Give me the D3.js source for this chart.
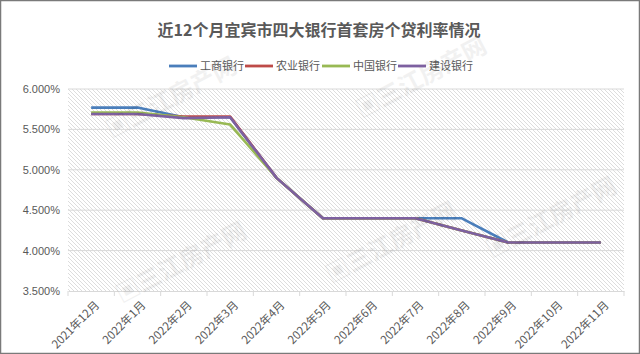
<!DOCTYPE html>
<html>
<head>
<meta charset="utf-8">
<script src="https://cdn.jsdelivr.net/npm/d3@7"></script>
<style>
  body { margin: 0; background: #fff; }
  svg { display: block; font-family: "Microsoft YaHei", "Noto Sans CJK SC", sans-serif; }
</style>
</head>
<body>
<div id="chart"></div>
<script>
// dados
const months = ['2021年12月', '2022年1月', '2022年2月', '2022年3月', '2022年4月', '2022年5月',
  '2022年6月', '2022年7月', '2022年8月', '2022年9月', '2022年10月', '2022年11月'];
const icbc = [5.77, 5.77, 5.65, 5.65, 4.90, 4.40, 4.40, 4.40, 4.40, 4.10, 4.10, 4.10];
const abc  = [5.69, 5.69, 5.66, 5.66, 4.90, 4.40, 4.40, 4.40, 4.25, 4.10, 4.10, 4.10];
const boc  = [5.71, 5.71, 5.65, 5.56, 4.90, 4.40, 4.40, 4.40, 4.25, 4.10, 4.10, 4.10];
const ccb  = [5.69, 5.69, 5.64, 5.65, 4.90, 4.40, 4.40, 4.40, 4.25, 4.10, 4.10, 4.10];
const seriesNames = ['工商银行', '农业银行', '中国银行', '建设银行'];
const yTicks = [3.5, 4.0, 4.5, 5.0, 5.5, 6.0];

const series = [
  { name: seriesNames[0], values: icbc, color: '#4a7ebb' },
  { name: seriesNames[1], values: abc, color: '#be4b48' },
  { name: seriesNames[2], values: boc, color: '#98b954' },
  { name: seriesNames[3], values: ccb, color: '#7d60a0' }
];

const W = 640, H = 354;
const margin = { top: 89, right: 16, bottom: 63, left: 68 };
const width = W - margin.left - margin.right;
const height = H - margin.top - margin.bottom;

const svg = d3.select('#chart').append('svg')
  .attr('width', W).attr('height', H);

// borda externa
svg.append('rect')
  .attr('x', 0.5).attr('y', 0.5).attr('width', W - 1).attr('height', H - 1)
  .attr('fill', '#fff').attr('stroke', '#7a7a7a').attr('stroke-width', 1.5);

// padrão hachurado
const defs = svg.append('defs');
const pat = defs.append('pattern')
  .attr('id', 'hatch').attr('patternUnits', 'userSpaceOnUse')
  .attr('width', 4).attr('height', 4);
pat.append('path')
  .attr('d', 'M-1,-1 L5,5 M-1,3 L1,5 M3,-1 L5,1')
  .attr('stroke', '#d4d4d4').attr('stroke-width', 0.8);

const g = svg.append('g')
  .attr('transform', `translate(${margin.left},${margin.top})`);

g.append('rect')
  .attr('width', width).attr('height', height)
  .attr('fill', 'url(#hatch)');

// escalas
const x = d3.scaleBand().domain(months).range([0, width]);
const y = d3.scaleLinear().domain([3.5, 6.0]).range([height, 0]);

// grade
g.selectAll('.grid')
  .data(yTicks.filter(t => t > 3.5))
  .enter().append('line')
  .attr('x1', 0).attr('x2', width)
  .attr('y1', d => y(d)).attr('y2', d => y(d))
  .attr('stroke', '#d9d9d9').attr('stroke-width', 1);

// eixo Y
const yAxis = g.append('g')
  .call(d3.axisLeft(y).tickValues(yTicks).tickSize(0).tickPadding(8)
    .tickFormat(d => d.toFixed(3) + '%'));
yAxis.select('.domain').remove();
yAxis.selectAll('text')
  .attr('fill', '#595959').style('font-size', '11px');

// eixo X
const xAxis = g.append('g')
  .attr('transform', `translate(0,${height})`)
  .call(d3.axisBottom(x).tickSize(0).tickFormat(''));
xAxis.select('.domain').attr('stroke', '#d9d9d9');
g.append('g').selectAll('line')
  .data(months.concat(['end']))
  .enter().append('line')
  .attr('x1', (d, i) => i * x.bandwidth()).attr('x2', (d, i) => i * x.bandwidth())
  .attr('y1', height).attr('y2', height + 5)
  .attr('stroke', '#d9d9d9');

g.append('g').selectAll('text')
  .data(months)
  .enter().append('text')
  .attr('transform', d => `translate(${x(d) + x.bandwidth() / 2 + 6},${height + 12}) rotate(-45)`)
  .attr('text-anchor', 'end')
  .attr('dy', '0.35em')
  .attr('fill', '#595959')
  .style('font-size', '11.5px')
  .text(d => d);

// marcas d'água
const marks = [[175, 105], [425, 85], [185, 270], [395, 250], [555, 225]];
svg.append('g').selectAll('text')
  .data(marks)
  .enter().append('text')
  .attr('transform', d => `translate(${d[0]},${d[1]}) rotate(-28)`)
  .attr('text-anchor', 'middle')
  .attr('fill', '#000').attr('opacity', 0.05)
  .style('font-size', '24px').style('font-weight', 'bold')
  .text('▣三江房产网');

// linhas
const line = d3.line()
  .x((d, i) => x(months[i]) + x.bandwidth() / 2)
  .y(d => y(d));

g.selectAll('.series')
  .data(series)
  .enter().append('path')
  .attr('fill', 'none')
  .attr('stroke', d => d.color)
  .attr('stroke-width', 2.6)
  .attr('stroke-linejoin', 'round')
  .attr('d', d => line(d.values));

// título
svg.append('text')
  .attr('x', 319).attr('y', 36)
  .attr('text-anchor', 'middle')
  .attr('fill', '#595959')
  .style('font-size', '16px').style('font-weight', 'bold')
  .text('近12个月宜宾市四大银行首套房个贷利率情况');

// legenda
const legendX = [169, 245, 322, 398];
const legend = svg.append('g');
series.forEach((s, i) => {
  legend.append('line')
    .attr('x1', legendX[i]).attr('x2', legendX[i] + 28)
    .attr('y1', 66).attr('y2', 66)
    .attr('stroke', s.color).attr('stroke-width', 2.8);
  legend.append('text')
    .attr('x', legendX[i] + 31).attr('y', 66)
    .attr('dy', '0.35em')
    .attr('fill', '#595959')
    .style('font-size', '11px')
    .text(s.name);
});
</script>
</body>
</html>
